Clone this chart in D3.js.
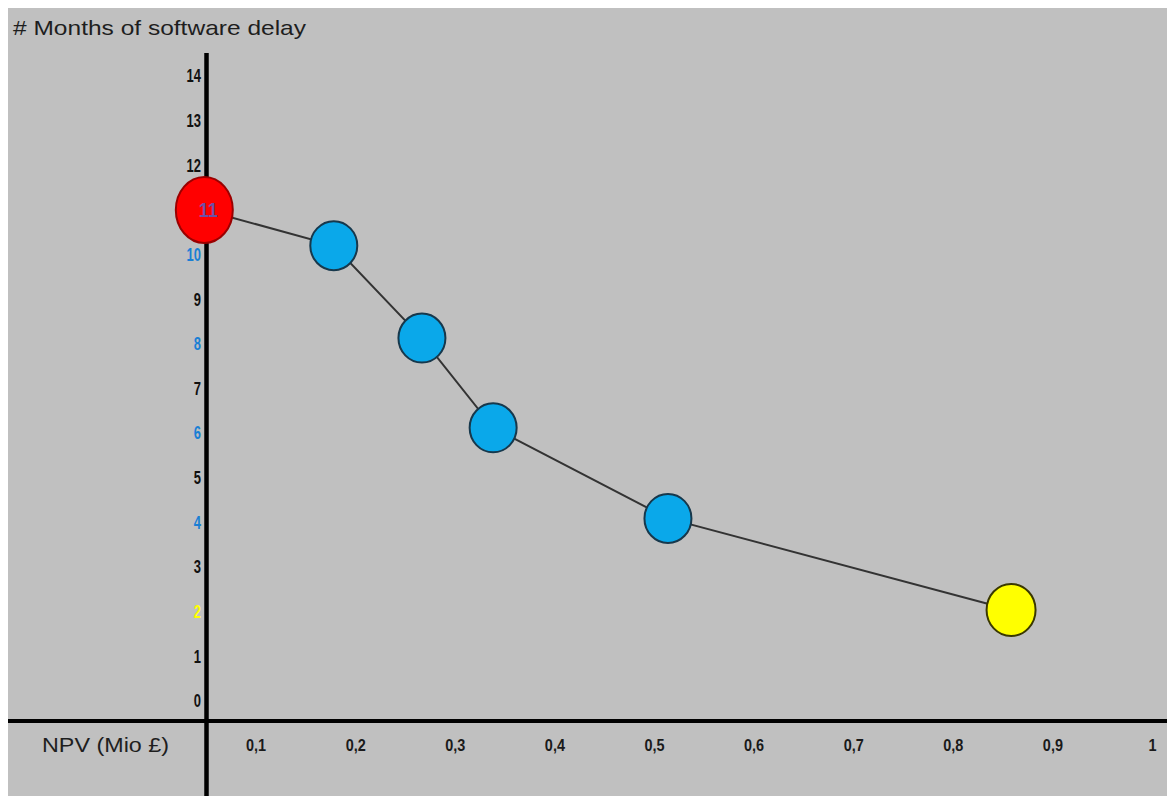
<!DOCTYPE html>
<html>
<head>
<meta charset="utf-8">
<script src="https://cdn.jsdelivr.net/npm/d3@7"></script>
<style>
  html, body { margin: 0; padding: 0; background: #ffffff; }
  svg { display: block; }
</style>
</head>
<body>
<svg id="chart" width="1167" height="798"></svg>
<script>
// ---- data ----
const npv = [0.048, 0.178, 0.2665, 0.338, 0.5135, 0.858];
const months = [11, 10.2, 8.13, 6.12, 4.09, 2.04];
const pointKinds = ["red", "blue", "blue", "blue", "blue", "yellow"];
const xTicks = [0.1, 0.2, 0.3, 0.4, 0.5, 0.6, 0.7, 0.8, 0.9, 1];
const xTickLabels = ["0,1", "0,2", "0,3", "0,4", "0,5", "0,6", "0,7", "0,8", "0,9", "1"];
const yTicks = [0, 1, 2, 3, 4, 5, 6, 7, 8, 9, 10, 11, 12, 13, 14];
const yTickKinds = ["k", "k", "yellow", "k", "blue", "k", "blue", "k", "blue", "k", "blue", "k", "k", "k", "k"];
const yTitle = "# Months of software delay";
const xTitle = "NPV (Mio £)";
const pointLabel = "11";

// ---- styles ----
const fills = { red: "#ff0000", blue: "#0aa8ea", yellow: "#ffff00" };
const strokes = { red: "#9a0000", blue: "#17384c", yellow: "#3a3800" };
const radii = { red: [28.5, 33], blue: [23.5, 24.5], yellow: [24.5, 26] };
const tickColors = { k: "#111111", blue: "#1a7fd4", yellow: "#ffff00" };

const svg = d3.select("#chart");
const W = 1167, H = 798;

// background
svg.append("rect").attr("x", 8).attr("y", 8).attr("width", W - 8).attr("height", 788).attr("fill", "#c0c0c0");

const x = d3.scaleLinear().domain([0, 1]).range([156.5, 1152.5]);
const y = d3.scaleLinear().domain([0, 14]).range([701, 76]);

const axisX = 206.5, axisY = 721;

// y tick labels
svg.append("g").selectAll("text").data(yTicks).join("text")
  .attr("transform", d => `translate(201,${y(d)}) scale(0.72,1)`)
  .attr("text-anchor", "end")
  .attr("dominant-baseline", "central")
  .attr("font-family", "Arial, 'Liberation Sans', sans-serif")
  .attr("font-weight", "bold")
  .attr("font-size", 18)
  .attr("fill", (d, i) => tickColors[yTickKinds[i]])
  .text(d => d);

// x tick labels
svg.append("g").selectAll("text").data(xTicks).join("text")
  .attr("transform", d => `translate(${x(d)},745) scale(0.85,1)`)
  .attr("text-anchor", "middle")
  .attr("dominant-baseline", "central")
  .attr("font-family", "Arial, 'Liberation Sans', sans-serif")
  .attr("font-weight", "bold")
  .attr("font-size", 17)
  .attr("fill", "#1a1a1a")
  .text((d, i) => xTickLabels[i]);

// axes lines
svg.append("line").attr("x1", 8).attr("x2", W).attr("y1", axisY).attr("y2", axisY)
  .attr("stroke", "#000").attr("stroke-width", 4);
svg.append("line").attr("x1", axisX).attr("x2", axisX).attr("y1", 53).attr("y2", 796)
  .attr("stroke", "#000").attr("stroke-width", 4.5);

// titles
svg.append("text").attr("x", 13).attr("y", 35)
  .attr("font-family", "Arial, 'Liberation Sans', sans-serif")
  .attr("font-size", 21).attr("fill", "#1e1e1e")
  .attr("textLength", 293).attr("lengthAdjust", "spacingAndGlyphs")
  .text(yTitle);
svg.append("text").attr("x", 42).attr("y", 752)
  .attr("font-family", "Arial, 'Liberation Sans', sans-serif")
  .attr("font-size", 20).attr("fill", "#1e1e1e")
  .attr("textLength", 127).attr("lengthAdjust", "spacingAndGlyphs")
  .text(xTitle);

// line
const pts = npv.map((v, i) => [v, months[i]]);
svg.append("path")
  .attr("d", d3.line().x(d => x(d[0])).y(d => y(d[1]))(pts))
  .attr("fill", "none").attr("stroke", "#333").attr("stroke-width", 2);

// points
svg.append("g").selectAll("ellipse").data(pts).join("ellipse")
  .attr("cx", d => x(d[0])).attr("cy", d => y(d[1]))
  .attr("rx", (d, i) => radii[pointKinds[i]][0])
  .attr("ry", (d, i) => radii[pointKinds[i]][1])
  .attr("fill", (d, i) => fills[pointKinds[i]])
  .attr("stroke", (d, i) => strokes[pointKinds[i]])
  .attr("stroke-width", 2);

// label on red point
svg.append("text")
  .attr("transform", `translate(${x(npv[0]) + 4},${y(months[0])}) scale(0.9,1)`)
  .attr("text-anchor", "middle").attr("dominant-baseline", "central")
  .attr("font-family", "Arial, 'Liberation Sans', sans-serif")
  .attr("font-weight", "bold").attr("font-size", 20)
  .attr("fill", "#6e4fa6")
  .text(pointLabel);
</script>
</body>
</html>
